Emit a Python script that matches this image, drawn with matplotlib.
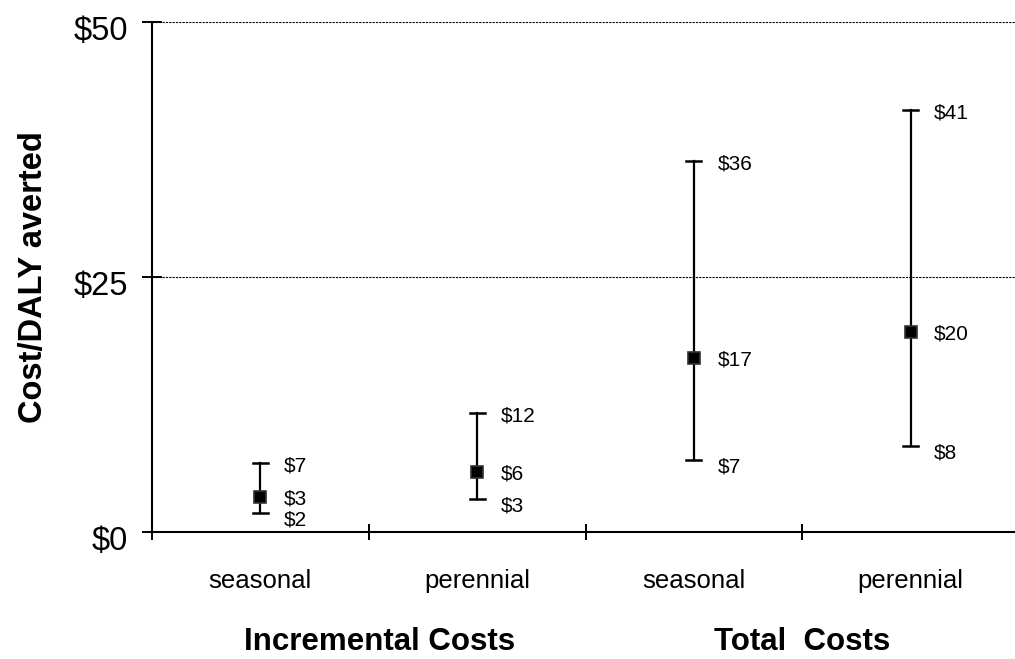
import matplotlib.pyplot as plt
import matplotlib.transforms as mtransforms

plt.rcParams['font.family'] = ['Liberation Sans', 'DejaVu Sans']

# cost per DALY averted: point estimate with low / high range
categories = ['seasonal', 'perennial', 'seasonal', 'perennial']
groups = ['Incremental Costs', 'Total  Costs']
mid = [3.4, 5.9, 17.1, 19.6]
low = [1.9, 3.2, 7.1, 8.4]
high = [6.8, 11.7, 36.4, 41.4]
yticks = [0, 25, 50]

fig = plt.figure(figsize=(10.15, 6.59), dpi=100)
# axes run off the right edge like the original sheet
ax = fig.add_axes([152/1015, 127/659, 867/1015, 510/659])

x = list(range(len(categories)))
for i in x:
    ax.plot([i, i], [low[i], high[i]], color='black', lw=1.6, zorder=3)
    ax.plot([i - 0.035, i + 0.035], [low[i], low[i]], color='black', lw=1.8, zorder=3)
    ax.plot([i - 0.035, i + 0.035], [high[i], high[i]], color='black', lw=1.8, zorder=3)
ax.plot(x, mid, 's', color='black', ms=8.5, mec='#333333', mew=1.2, zorder=4, ls='none')

# value labels to the right of each bar (low ones sit a bit lower)
for i in x:
    for v, dy in ((low[i], -5), (mid[i], -1.5), (high[i], -2.5)):
        ax.annotate('$%d' % round(v), (i, v), xytext=(17, dy), textcoords='offset points',
                    ha='left', va='center', fontsize=15)

ax.set_xlim(-0.5, 3.5)
ax.set_ylim(0, 50)
ax.set_yticks(yticks)
ax.set_yticklabels(['$%d' % t for t in yticks], fontsize=23.5)
ax.set_xticks([-0.5, 0.5, 1.5, 2.5, 3.5])
ax.set_xticklabels([])
ax.tick_params(axis='y', direction='inout', length=14, width=1.4, pad=10)
ax.tick_params(axis='x', direction='inout', length=12, width=1.4)

# nudge the y tick labels down a little
shift = mtransforms.ScaledTranslation(0, -4/72, fig.dpi_scale_trans)
for lab in ax.get_yticklabels():
    lab.set_transform(lab.get_transform() + shift)

for t in (25, 50):
    ax.axhline(t, color='black', lw=0.8, ls=(0, (2, 1)), zorder=1)

for s in ('top', 'right'):
    ax.spines[s].set_visible(False)
for s in ('left', 'bottom'):
    ax.spines[s].set_linewidth(1.5)

ax.set_ylabel('Cost/DALY averted', fontsize=23.5, fontweight='bold', labelpad=18)

for i, c in enumerate(categories):
    ax.text(i, -4.8, c, ha='center', va='center', fontsize=18.5, clip_on=False)
group_x = [0.55, 2.5]
for gx, g in zip(group_x, groups):
    ax.text(gx, -11.6, g, ha='center', va='baseline', fontsize=22.5, fontweight='bold', clip_on=False)

fig.savefig('out.png', dpi=100)
